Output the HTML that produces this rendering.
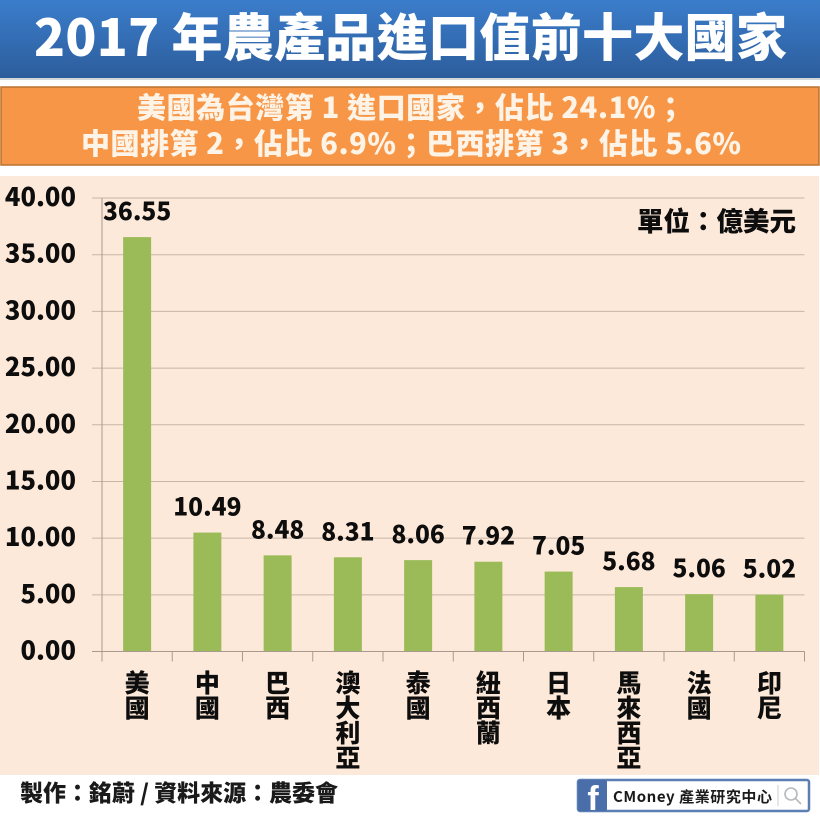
<!DOCTYPE html>
<html lang="zh-Hant">
<head>
<meta charset="utf-8">
<title>2017 年農產品進口值前十大國家</title>
<style>
html,body{margin:0;padding:0;background:#fff;width:820px;height:820px;overflow:hidden}
svg{display:block}
text{font-family:"Noto Sans CJK TC","Liberation Sans",sans-serif;font-weight:900}
</style>
</head>
<body>
<svg id="chart" width="820" height="820" viewBox="0 0 820 820" xmlns="http://www.w3.org/2000/svg">
  <defs>
    <linearGradient id="titleGrad" x1="0" y1="0" x2="0" y2="1">
      <stop offset="0" stop-color="#3b7dcb"/>
      <stop offset="1" stop-color="#2c5d9c"/>
    </linearGradient>
  </defs>
  <rect x="0" y="0" width="820" height="820" fill="#ffffff"/>
  <rect x="0" y="0" width="820" height="78" fill="url(#titleGrad)"/>
  <rect x="0" y="78" width="820" height="2" fill="#d3d6db"/>
  <text x="34" y="56" font-size="51" fill="#ffffff" textLength="753" lengthAdjust="spacing">2017 年農產品進口值前十大國家</text>
  <rect x="1" y="87" width="818" height="78" fill="#f79646" stroke="#b9722f" stroke-width="1.5"/>
  <text x="137" y="118" font-size="29" fill="#fdf3e6" textLength="548" lengthAdjust="spacing">美國為台灣第 1 進口國家，佔比 24.1%；</text>
  <text x="81" y="154" font-size="29" fill="#fdf3e6" textLength="660" lengthAdjust="spacing">中國排第 2，佔比 6.9%；巴西排第 3，佔比 5.6%</text>
  <rect x="0" y="176" width="819" height="599" fill="#fde9d9"/>
  <g id="plot"></g>
  <text x="796" y="231" font-size="26.5" fill="#0d0d0d" text-anchor="end">單位：億美元</text>
  <text x="20" y="801" font-size="23" fill="#1a1a1a" textLength="318" lengthAdjust="spacing">製作：銘蔚 / 資料來源：農委會</text>
  <g>
    <rect x="578" y="780" width="231" height="31" rx="2" fill="#ffffff" stroke="#5b7fb5" stroke-width="2.5"/>
    <rect x="578" y="780" width="29" height="31" rx="2" fill="#4a6ea9"/>
    <text x="593" y="810" font-size="34" fill="#ffffff" text-anchor="middle" style='font-family:"Liberation Sans",sans-serif;font-weight:700'>f</text>
    <text x="613" y="802" font-size="15" fill="#1a1a1a" textLength="159" lengthAdjust="spacing" style="font-weight:700">CMoney 產業研究中心</text>
    <line x1="778" y1="785" x2="778" y2="806" stroke="#c8ccd0" stroke-width="1"/>
    <g fill="none" stroke="#b5b9bd" stroke-width="1.6">
      <circle cx="791" cy="794" r="6"/>
      <line x1="795.5" y1="798.5" x2="801" y2="804"/>
    </g>
  </g>
</svg>
<script>
const categories = ["美國","中國","巴西","澳大利亞","泰國","紐西蘭","日本","馬來西亞","法國","印尼"];
const seriesValues = [36.55,10.49,8.48,8.31,8.06,7.92,7.05,5.68,5.06,5.02];
const valueLabels = ["36.55","10.49","8.48","8.31","8.06","7.92","7.05","5.68","5.06","5.02"];
const tickValues = [0,5,10,15,20,25,30,35,40];
const tickLabels = ["0.00","5.00","10.00","15.00","20.00","25.00","30.00","35.00","40.00"];

const plotLeft = 102, plotRight = 804.5, plotTop = 198, plotBottom = 651.5, axisMax = 40;
const yScale = function (v) { return plotBottom - (v / axisMax) * (plotBottom - plotTop); };
const bandWidth = (plotRight - plotLeft) / categories.length;
const xBand = function (i) { return plotLeft + i * bandWidth; };
const svgNS = "http://www.w3.org/2000/svg";
const plot = document.getElementById("plot");

function make(tag, attrs, text) {
  const el = document.createElementNS(svgNS, tag);
  for (const k in attrs) el.setAttribute(k, attrs[k]);
  if (text !== undefined) el.textContent = text;
  plot.appendChild(el);
  return el;
}

tickValues.forEach(function (v, i) {
  const y = yScale(v);
  if (v !== 0) {
    const grid = make("line", {x1: 92, x2: plotRight, y1: y, y2: y, stroke: "#c9b5a6", "stroke-width": 1});
    
    
  }
  const label = make("text", {x: 76, y: y + 8, "font-size": 25.5, fill: "#0d0d0d", "text-anchor": "end"}, tickLabels[i]);
  
  
});

const yAxis = make("line", {x1: plotLeft, x2: plotLeft, y1: plotTop, y2: plotBottom + 10, stroke: "#a89a8e", "stroke-width": 1});



seriesValues.forEach(function (v, i) {
  const cx = xBand(i) + bandWidth / 2;
  const top = yScale(v);
  const bar = make("rect", {x: cx - 14, y: top, width: 28, height: plotBottom - top, fill: "#9bbb59"});
  
  
  const value = make("text", {x: cx, y: top - 17, "font-size": 24.5, fill: "#0d0d0d", "text-anchor": "middle"}, valueLabels[i]);
  
  
  Array.from(categories[i]).forEach(function (ch, j) {
    const c = make("text", {x: cx, y: 692 + j * 25, "font-size": 25, fill: "#0d0d0d", "text-anchor": "middle"}, ch);
    
    
  });
});

const xAxis = make("line", {x1: 92, x2: plotRight, y1: plotBottom, y2: plotBottom, stroke: "#a89a8e", "stroke-width": 1});



for (let i = 1; i <= categories.length; i++) {
  const tick = make("line", {x1: xBand(i), x2: xBand(i), y1: plotBottom, y2: plotBottom + 10, stroke: "#a89a8e", "stroke-width": 1});
  
  
}
</script>
</body>
</html>
